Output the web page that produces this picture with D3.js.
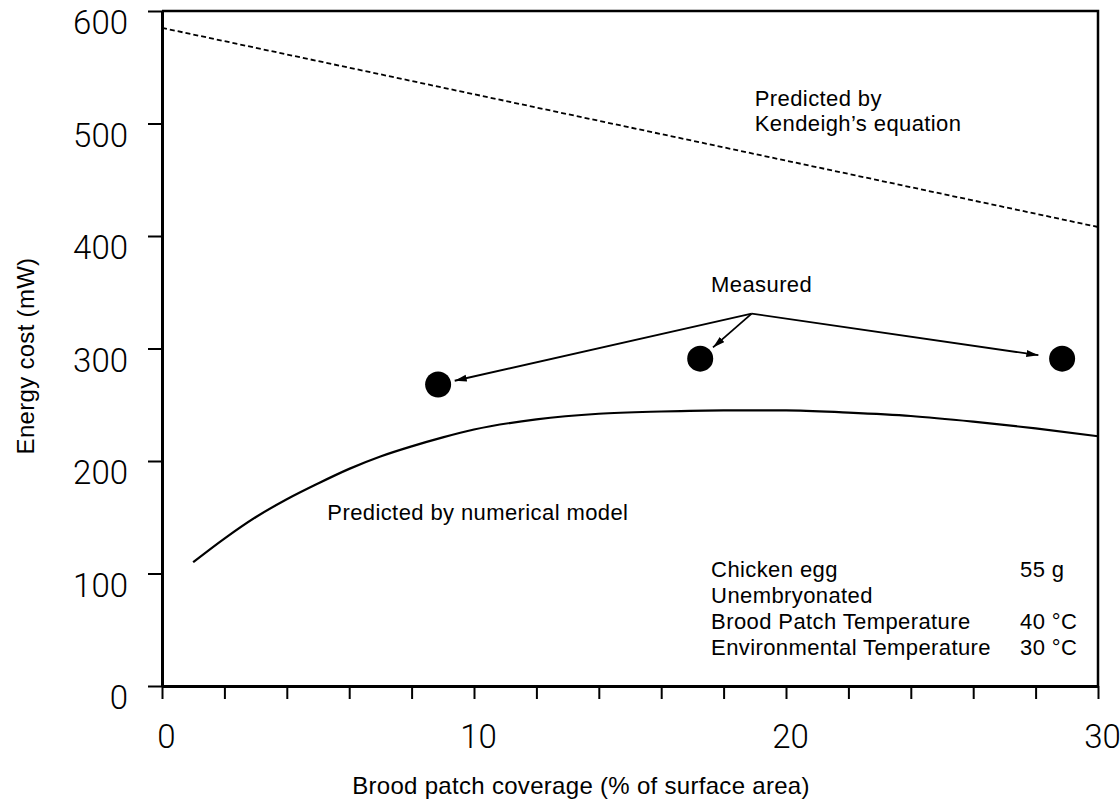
<!DOCTYPE html>
<html>
<head>
<meta charset="utf-8">
<script src="https://cdn.jsdelivr.net/npm/d3@7"></script>
<style>
  html, body { margin: 0; padding: 0; background: #fff; }
  svg { display: block; }
  .tick-num { font-family: Roboto, "DejaVu Sans", sans-serif; font-weight: 300; font-size: 33px; fill: #000; }
  .note { font-family: "Liberation Sans", Arial, Helvetica, sans-serif; font-size: 22px; letter-spacing: 0.4px; fill: #000; }
  .axis-title { font-family: "Liberation Sans", Arial, Helvetica, sans-serif; font-size: 24px; letter-spacing: 0.3px; fill: #000; }
</style>
</head>
<body>
<svg id="chart" width="1120" height="805"></svg>
<script>
// Axis ticks and labels
const coverageTicks = [0, 2, 4, 6, 8, 10, 12, 14, 16, 18, 20, 22, 24, 26, 28, 30];
const coverageLabels = [0, 10, 20, 30];
const energyTicks = [0, 100, 200, 300, 400, 500, 600];

// Numerical model prediction (brood patch coverage %, energy cost mW)
const modelCoverage = [1, 2, 3, 4, 5, 6, 7, 8, 9, 10, 12, 14, 16, 18, 20, 22, 24, 26, 28, 30];
const modelEnergy   = [110, 131, 150, 166, 180, 193, 204, 213, 221, 228, 237, 242, 244, 245, 245, 243, 240, 235, 229, 222];

// Kendeigh's equation prediction
const kendeighCoverage = [0, 30];
const kendeighEnergy   = [585, 408];

// Measured values
const measuredCoverage = [8.85, 17.25, 28.85];
const measuredEnergy   = [268, 291, 291];

// Callout origin for the "Measured" arrows
const calloutCoverage = 18.9;
const calloutEnergy = 331;

// Experimental conditions
const conditionNames  = ["Chicken egg", "Unembryonated", "Brood Patch Temperature", "Environmental Temperature"];
const conditionValues = ["55 g", "", "40 °C", "30 °C"];

const svg = d3.select("#chart");
const W = 1120, H = 805;
const margin = { left: 162, right: 22, top: 11, bottom: 119 };
const x = d3.scaleLinear().domain([0, 30]).range([margin.left, W - margin.right]);
const y = d3.scaleLinear().domain([0, 600]).range([H - margin.bottom, margin.top]);

svg.append("rect").attr("width", W).attr("height", H).attr("fill", "#fff");

// Frame (top and right)
svg.append("path")
  .attr("d", `M${x(0)},${y(600)} H${x(30)} V${y(0)}`)
  .attr("fill", "none").attr("stroke", "#000").attr("stroke-width", 2.5);

// Y axis
const yAxis = svg.append("g")
  .attr("transform", `translate(${x(0)},0)`)
  .call(d3.axisLeft(y).tickValues(energyTicks).tickSize(14).tickSizeOuter(0).tickPadding(20).tickFormat(d3.format("d")));
yAxis.select(".domain").attr("stroke-width", 3);
yAxis.selectAll(".tick line").attr("stroke-width", 2);
yAxis.selectAll(".tick text").attr("class", "tick-num").attr("dy", "0.35em").attr("transform", "translate(0,11)");

// X axis
const xAxis = svg.append("g")
  .attr("transform", `translate(0,${y(0)})`)
  .call(d3.axisBottom(x).tickValues(coverageTicks).tickSize(13).tickSizeOuter(0).tickPadding(26)
    .tickFormat(d => coverageLabels.includes(d) ? d3.format("d")(d) : ""));
xAxis.select(".domain").attr("stroke-width", 3);
xAxis.selectAll(".tick line").attr("stroke-width", 2);
xAxis.selectAll(".tick text").attr("class", "tick-num").attr("dx", 4);

// Kendeigh's equation (dashed)
const kendeigh = kendeighCoverage.map((c, i) => [c, kendeighEnergy[i]]);
svg.append("path")
  .datum(kendeigh)
  .attr("d", d3.line().x(d => x(d[0])).y(d => y(d[1])))
  .attr("fill", "none").attr("stroke", "#000").attr("stroke-width", 1.8)
  .attr("stroke-dasharray", "5,3");

// Numerical model curve
const model = modelCoverage.map((c, i) => [c, modelEnergy[i]]);
svg.append("path")
  .datum(model)
  .attr("d", d3.line().x(d => x(d[0])).y(d => y(d[1])).curve(d3.curveMonotoneX))
  .attr("fill", "none").attr("stroke", "#000").attr("stroke-width", 2.2);

// Arrowhead
svg.append("defs").append("marker")
  .attr("id", "arrowhead")
  .attr("markerUnits", "userSpaceOnUse")
  .attr("markerWidth", 14).attr("markerHeight", 10)
  .attr("refX", 12).attr("refY", 3.5)
  .attr("orient", "auto")
  .append("path").attr("d", "M0,0 L12,3.5 L0,7 Z").attr("fill", "#000");

// Measured points
const measured = measuredCoverage.map((c, i) => [c, measuredEnergy[i]]);
const arrowGaps = [17, 17, 24];
const ox = x(calloutCoverage), oy = y(calloutEnergy);
svg.append("g").selectAll("line").data(measured).join("line")
  .attr("x1", ox).attr("y1", oy)
  .attr("x2", (d, i) => {
    const px = x(d[0]), py = y(d[1]);
    const len = Math.hypot(px - ox, py - oy);
    return px - (px - ox) / len * arrowGaps[i];
  })
  .attr("y2", (d, i) => {
    const px = x(d[0]), py = y(d[1]);
    const len = Math.hypot(px - ox, py - oy);
    return py - (py - oy) / len * arrowGaps[i];
  })
  .attr("stroke", "#000").attr("stroke-width", 1.8)
  .attr("marker-end", "url(#arrowhead)");

svg.append("g").selectAll("circle").data(measured).join("circle")
  .attr("cx", d => x(d[0])).attr("cy", d => y(d[1])).attr("r", 13).attr("fill", "#000");

// Annotations
const notes = [
  { text: "Predicted by", cx: 19.0, e: 516 },
  { text: "Kendeigh’s equation", cx: 19.0, e: 493 },
  { text: "Measured", cx: 17.6, e: 350 },
  { text: "Predicted by numerical model", cx: 5.3, e: 148 }
];
svg.append("g").selectAll("text").data(notes).join("text")
  .attr("class", "note")
  .attr("x", d => x(d.cx)).attr("y", d => y(d.e))
  .text(d => d.text);

// Conditions block
const condX = x(17.6), condValX = x(27.5);
const condG = svg.append("g");
conditionNames.forEach((name, i) => {
  const by = y(97) + i * 26;
  condG.append("text").attr("class", "note").attr("x", condX).attr("y", by).text(name);
  if (conditionValues[i]) condG.append("text").attr("class", "note").attr("x", condValX).attr("y", by).text(conditionValues[i]);
});

// Axis titles
svg.append("text").attr("class", "axis-title")
  .attr("x", 581).attr("y", 794).attr("text-anchor", "middle")
  .text("Brood patch coverage (% of surface area)");
svg.append("text").attr("class", "axis-title")
  .attr("transform", "translate(34,356) rotate(-90)").attr("text-anchor", "middle")
  .text("Energy cost (mW)");
</script>
</body>
</html>
